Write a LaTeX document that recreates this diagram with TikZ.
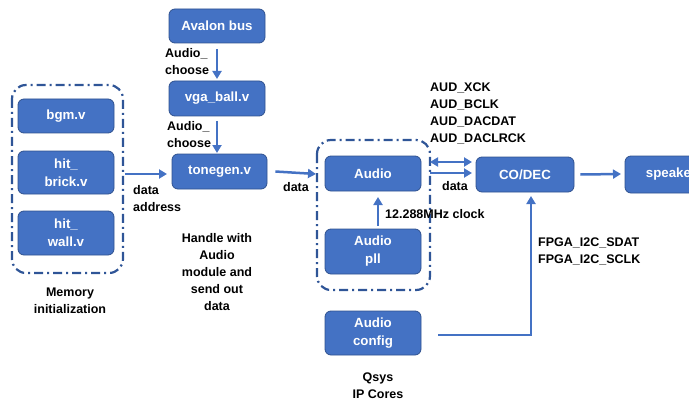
\documentclass[tikz,border=0pt]{standalone}
\usepackage{fontspec}
\setmainfont{Liberation Sans}
\usetikzlibrary{arrows.meta}
\definecolor{boxfill}{HTML}{4472C4}
\definecolor{boxedge}{HTML}{2F528F}
\definecolor{dashc}{HTML}{2F5597}
\begin{document}
\begin{tikzpicture}[x=1pt,y=-1pt,
  font=\fontsize{12.5}{17}\selectfont\bfseries,
  blk/.style={draw=boxedge, line width=0.8pt, fill=boxfill, rounded corners=6pt, text=white, align=center, inner sep=0pt, font=\fontsize{13.3}{18}\selectfont\bfseries},
  grp/.style={draw=dashc, line width=2.2pt, rounded corners=14pt, dash pattern=on 9pt off 4pt on 2pt off 4pt},
  arr/.style={draw=boxfill, line width=2.5pt, -{Triangle[length=8pt,width=9pt]}},
  darr/.style={draw=boxfill, line width=2.5pt, {Triangle[length=8pt,width=9pt]}-{Triangle[length=8pt,width=9pt]}},
  lbl/.style={align=left, inner sep=0pt, text=black},
  clbl/.style={align=center, inner sep=0pt, text=black}]
\useasboundingbox (0,0) rectangle (689,404);

% groups
\draw[grp] (12,85) rectangle (123,273);
\draw[grp] (317,140) rectangle (430,290);

% blocks
\node[blk, minimum width=96pt, minimum height=34pt] (avalon) at (217,26) {Avalon bus};
\node[blk, minimum width=96pt, minimum height=35pt] (vga) at (217,98.5) {vga\_ball.v};
\node[blk, minimum width=95pt, minimum height=35pt] (tone) at (219.5,171.5) {tonegen.v};
\node[blk, minimum width=96pt, minimum height=34pt] (bgm) at (66,116) {bgm.v};
\node[blk, minimum width=96pt, minimum height=43pt] (brick) at (66,172.5) {hit\_\\brick.v};
\node[blk, minimum width=96pt, minimum height=44pt] (wall) at (66,233) {hit\_\\wall.v};
\node[blk, minimum width=96pt, minimum height=35pt] (audio) at (373,173.5) {Audio};
\node[blk, minimum width=96pt, minimum height=45pt] (pll) at (373,251.5) {Audio\\pll};
\node[blk, minimum width=96pt, minimum height=44pt] (config) at (373,333) {Audio\\config};
\node[blk, minimum width=98pt, minimum height=35pt] (codec) at (525,174.5) {CO/DEC};
\node[blk, minimum width=92pt, minimum height=37pt] (spk) at (671,174.5) {speaker};

% coordinates
\coordinate (memR) at (125,174);
\coordinate (toneL) at (167,174);
\coordinate (grpL) at (316,174);
\coordinate (grpR1) at (430,162);
\coordinate (grpR2) at (430,173);
\coordinate (codecL1) at (472,162);
\coordinate (codecL2) at (472,173);
\coordinate (cfgR) at (438,335);
\coordinate (corner) at (531,335);
\coordinate (codecB) at (531,196);

% connectors
\draw[arr] (217,49) -- (217,79);
\draw[arr] (217,121) -- (217,153);
\draw[arr] (memR) -- (toneL);
\draw[arr] (tone.east) ++(8,0) coordinate (toneR) -- (grpL);
\draw[arr] (pll.north) ++(5,-3) coordinate (pllT) -- (378,197);
\draw[darr] (grpR1) -- (codecL1);
\draw[arr] (grpR2) -- (codecL2);
\draw[arr] (codec.east) ++(6,0) coordinate (codecR) -- (621,174);
\draw[arr, line cap=butt] (cfgR) -- (corner) -- (codecB);

% labels
\node[lbl, anchor=west] (l1) at (165,61.5) {Audio\_\\choose};
\node[lbl, anchor=west] (l2) at (167,134.5) {Audio\_\\choose};
\node[lbl, anchor=west] (l3) at (133,199) {data\\address};
\node[lbl] (l4) at (296,187) {data};
\node[lbl] (l5) at (455,186) {data};
\node[lbl, anchor=west] (l6) at (385,214) {12.288MHz clock};
\node[lbl, anchor=west] (l7) at (430,113) {AUD\_XCK\\AUD\_BCLK\\AUD\_DACDAT\\AUD\_DACLRCK};
\node[lbl, anchor=west] (l8) at (538,251) {FPGA\_I2C\_SDAT\\FPGA\_I2C\_SCLK};
\node[clbl] (l9) at (70,300.5) {Memory\\initialization};
\node[clbl] (l10) at (217,272) {Handle with\\Audio\\module and\\send out\\data};
\node[clbl] (l11) at (378,385.5) {Qsys\\IP Cores};
\end{tikzpicture}
\end{document}
